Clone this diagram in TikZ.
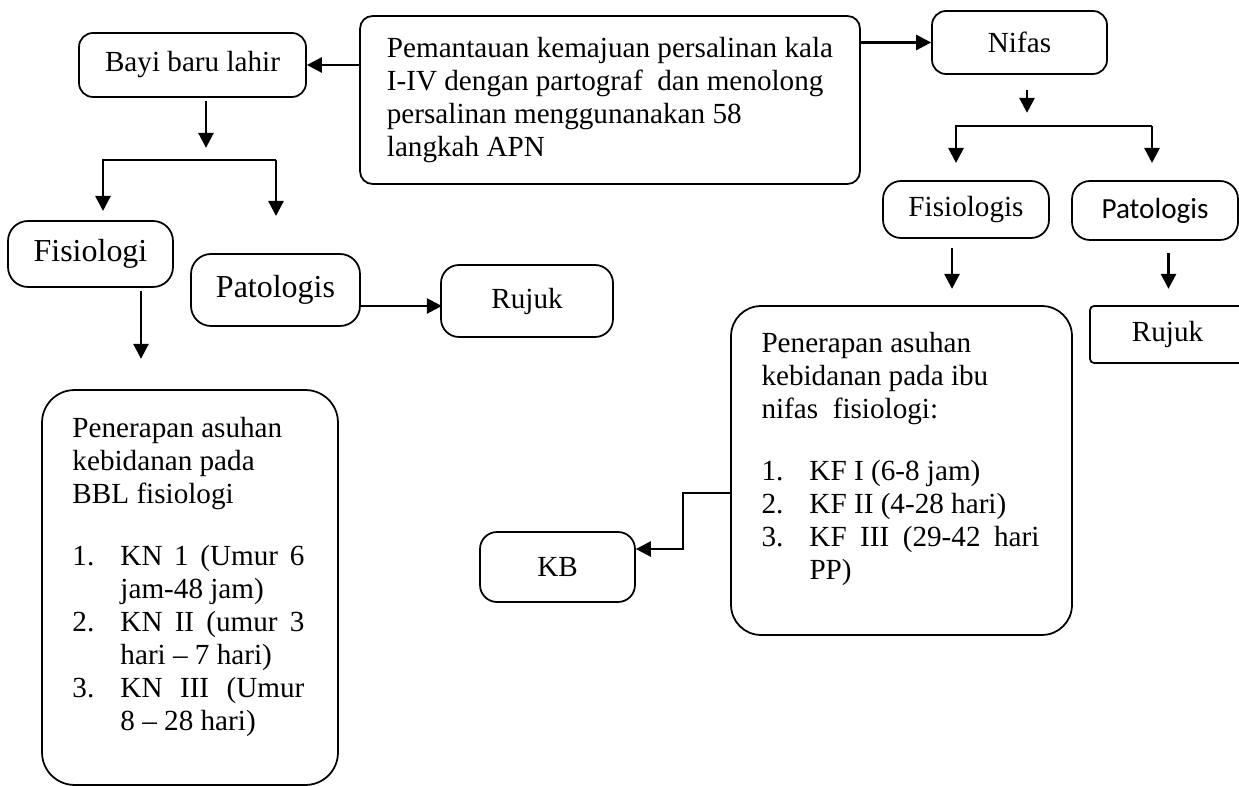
\documentclass[tikz,border=0pt]{standalone}
\usepackage{fontspec}
\setmainfont{Liberation Serif}
\newfontfamily\carlito{Carlito}
\usetikzlibrary{arrows.meta}
\newcommand{\nomor}[1]{\makebox[0.96cm][l]{#1}}
\newcommand{\lanjut}{\hspace*{0.96cm}}

\begin{document}
\begin{tikzpicture}[x=0.02cm,y=-0.02cm,
  font=\fontsize{16.6}{18.8}\selectfont,
  box/.style={draw,line width=1pt,rounded corners=0.28cm,inner sep=0pt},
  bigbox/.style={draw,line width=1pt,rounded corners=0.65cm,inner sep=0pt},
  isi/.style={align=left,inner sep=0pt,anchor=north west},
  besar/.style={font=\fontsize{18.2}{21}\selectfont},
  panah/.style={line width=1.5pt,-{Triangle[length=0.3cm,width=0.3cm]}}]
\useasboundingbox (0,0) rectangle (1239,786);

\node[box,rounded corners=0.25cm,minimum width=10cm,minimum height=3.36cm,align=left] (main) at (610,100)
  {Pemantauan kemajuan persalinan kala\\I-IV dengan partograf\ \ dan menolong\\persalinan menggunanakan 58\\langkah APN};
\node[box,minimum width=4.54cm,minimum height=1.28cm] (bayi) at (192.5,65) {Bayi baru lahir};
\node[box,minimum width=3.5cm,minimum height=1.26cm] (nifas) at (1019.5,42.5) {Nifas};

\node[box,besar,rounded corners=0.4cm,minimum width=3.3cm,minimum height=1.32cm] (fisL) at (90.5,254) {Fisiologi};
\node[box,besar,rounded corners=0.4cm,minimum width=3.38cm,minimum height=1.44cm] (patL) at (275.5,290) {Patologis};
\node[box,rounded corners=0.36cm,minimum width=3.44cm,minimum height=1.44cm] (rujukL) at (527,301) {Rujuk};

\node[box,rounded corners=0.36cm,minimum width=3.32cm,minimum height=1.14cm] (fisR) at (966,209.5) {Fisiologis};
\node[box,rounded corners=0.36cm,minimum width=3.32cm,minimum height=1.18cm,font=\carlito\fontsize{16.6}{18.8}\selectfont] (patR) at (1155,210.5) {Patologis};
\node[box,rounded corners=0.08cm,minimum width=3.1cm,minimum height=1.14cm] (rujukR) at (1167.5,334.5) {Rujuk};

\node[bigbox,minimum width=5.92cm,minimum height=7.9cm] (bbl) at (190,587.5) {};
\node[isi] (bbltext) at ([xshift=0.62cm,yshift=-0.56cm]bbl.north west)
  {Penerapan asuhan\\kebidanan pada\\BBL fisiologi\\[0.58cm]
   \nomor{1.}\makebox[3.68cm][s]{KN 1 (Umur 6}\\
   \lanjut jam-48 jam)\\
   \nomor{2.}\makebox[3.68cm][s]{KN II (umur 3}\\
   \lanjut hari – 7 hari)\\
   \nomor{3.}\makebox[3.68cm][s]{KN III (Umur}\\
   \lanjut 8 – 28 hari)};

\node[bigbox,rounded corners=0.6cm,minimum width=6.82cm,minimum height=6.58cm] (kf) at (901.5,470.5) {};
\node[isi] (kftext) at ([xshift=0.62cm,yshift=-0.54cm]kf.north west)
  {Penerapan asuhan\\kebidanan pada ibu\\nifas\ \ fisiologi:\\[0.58cm]
   \nomor{1.}KF I (6-8 jam)\\
   \nomor{2.}KF II (4-28 hari)\\
   \nomor{3.}\makebox[4.6cm][s]{KF III (29-42 hari}\\
   \lanjut PP)};
\node[box,rounded corners=0.34cm,minimum width=3.1cm,minimum height=1.4cm] (kb) at (557.5,567) {KB};

\draw[panah] (main.west |- bayi.east) -- (bayi.east);
\draw[panah] (main.east |- nifas.west) -- (nifas.west);

\draw[panah] ([xshift=0.27cm,yshift=-0.06cm]bayi.south) -- ++(0,-0.94cm);
\coordinate (bbkiri) at (103,160);
\coordinate (bbkanan) at (276,160);
\draw[panah] (bbkanan) -- (bbkiri) -- ++(0,-1.02cm);
\draw[panah] (bbkanan) -- ++(0,-1.12cm);
\draw[panah] ([xshift=1.01cm,yshift=-0.06cm]fisL.south) -- ++(0,-1.36cm);
\draw[panah] ([yshift=-0.32cm]patL.east) -- ++(1.62cm,0);

\draw[panah] ([xshift=0.15cm,yshift=-0.3cm]nifas.south) -- ++(0,-0.46cm);
\coordinate (nfkiri) at (956,126);
\coordinate (nfkanan) at (1152,126);
\draw[panah] (nfkanan) -- (nfkiri) -- ++(0,-0.74cm);
\draw[panah] (nfkanan) -- ++(0,-0.74cm);
\draw[panah] ([xshift=-0.28cm,yshift=-0.18cm]fisR.south) -- ++(0,-0.82cm);
\draw[panah] ([xshift=0.27cm,yshift=-0.24cm]patR.south) -- ++(0,-0.72cm);

\draw[panah] ([yshift=-0.45cm]kf.west) -- ++(-0.94cm,0) |- ([yshift=0.36cm]kb.east);
\end{tikzpicture}
\end{document}
